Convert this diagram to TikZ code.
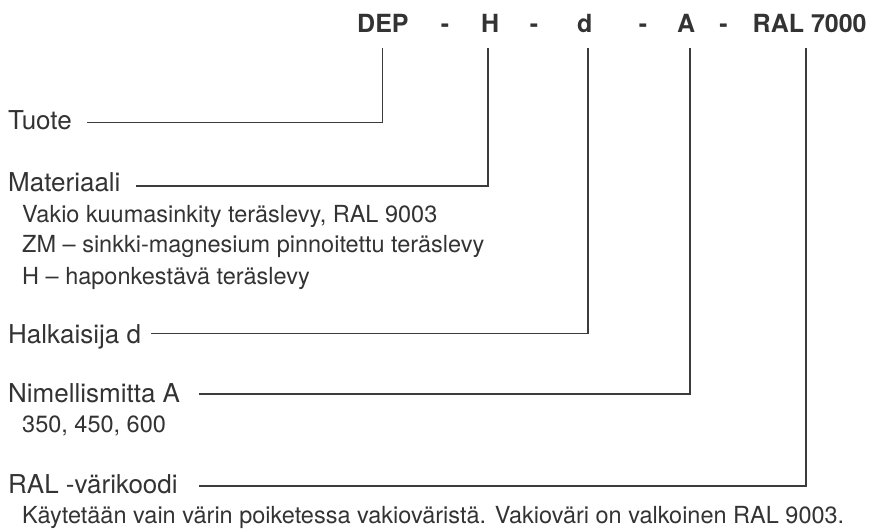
\documentclass[tikz,border=0pt]{standalone}
\usepackage{fontspec}
\setmainfont{TeX Gyre Heros}
\definecolor{txt}{HTML}{333333}
\definecolor{ln}{HTML}{3C3C3C}
\begin{document}
\begin{tikzpicture}[x=1pt,y=-1pt,
  hdr/.style={anchor=base west,inner sep=0pt,text=txt,font=\fontsize{25}{30}\selectfont\bfseries},
  hdrdash/.style={anchor=base,inner sep=0pt,text=txt,font=\fontsize{25}{30}\selectfont\bfseries},
  lbl/.style={anchor=base west,inner sep=0pt,text=txt,font=\fontsize{26}{30}\selectfont},
  sub/.style={anchor=base west,inner sep=0pt,text=txt,font=\fontsize{23.5}{28}\selectfont},
  conn/.style={draw=ln,line width=1.6pt,line cap=rect}]
\useasboundingbox (0,0) rectangle (872,529);
% header
\node[hdr] (dep) at (357,33) {DEP};
\node[hdrdash] (m1) at (445,33) {-};
\node[hdr] (h) at (481,33) {H};
\node[hdrdash] (m2) at (534,33) {-};
\node[hdr] (d) at (577,33) {d};
\node[hdrdash] (m3) at (643,33) {-};
\node[hdr] (a) at (677,33) {A};
\node[hdrdash] (m4) at (723.5,33) {-};
\node[hdr] (ral) at (752.5,33) {RAL 7000};
% tops of the connectors
\coordinate (tdep) at (382.5,49);
\coordinate (th) at (488,49);
\coordinate (td) at (588,49);
\coordinate (ta) at (690,49);
\coordinate (tral) at (806,49);
% labels
\node[lbl] (tuote) at (8,130) {Tuote};
\node[lbl] (mat) at (8,192) {Materiaali};
\node[sub] (mat1) at (22,223) {Vakio kuumasinkity teräslevy, RAL 9003};
\node[sub] (mat2) at (22,253) {ZM – sinkki-magnesium pinnoitettu teräslevy};
\node[sub] (mat3) at (22,284) {H – haponkestävä teräslevy};
\node[lbl] (halk) at (8,343) {Halkaisija d};
\node[lbl] (nim) at (8,402) {Nimellismitta A};
\node[sub] (nim1) at (22,432) {350, 450, 600};
\node[lbl] (ralk) at (8,493) {RAL -värikoodi};
\node[sub] (ralk1) at (22,523) {Käytetään vain värin poiketessa vakioväristä. Vakioväri on valkoinen RAL 9003.};
% line starts
\coordinate (s1) at (88,122.7);
\coordinate (s2) at (137,186);
\coordinate (s3) at (152,333.3);
\coordinate (s4) at (200,394);
\coordinate (s5) at (200,486);
\draw[conn] (s1) -| (tdep);
\draw[conn] (s2) -| (th);
\draw[conn] (s3) -| (td);
\draw[conn] (s4) -| (ta);
\draw[conn] (s5) -| (tral);
\end{tikzpicture}
\end{document}
